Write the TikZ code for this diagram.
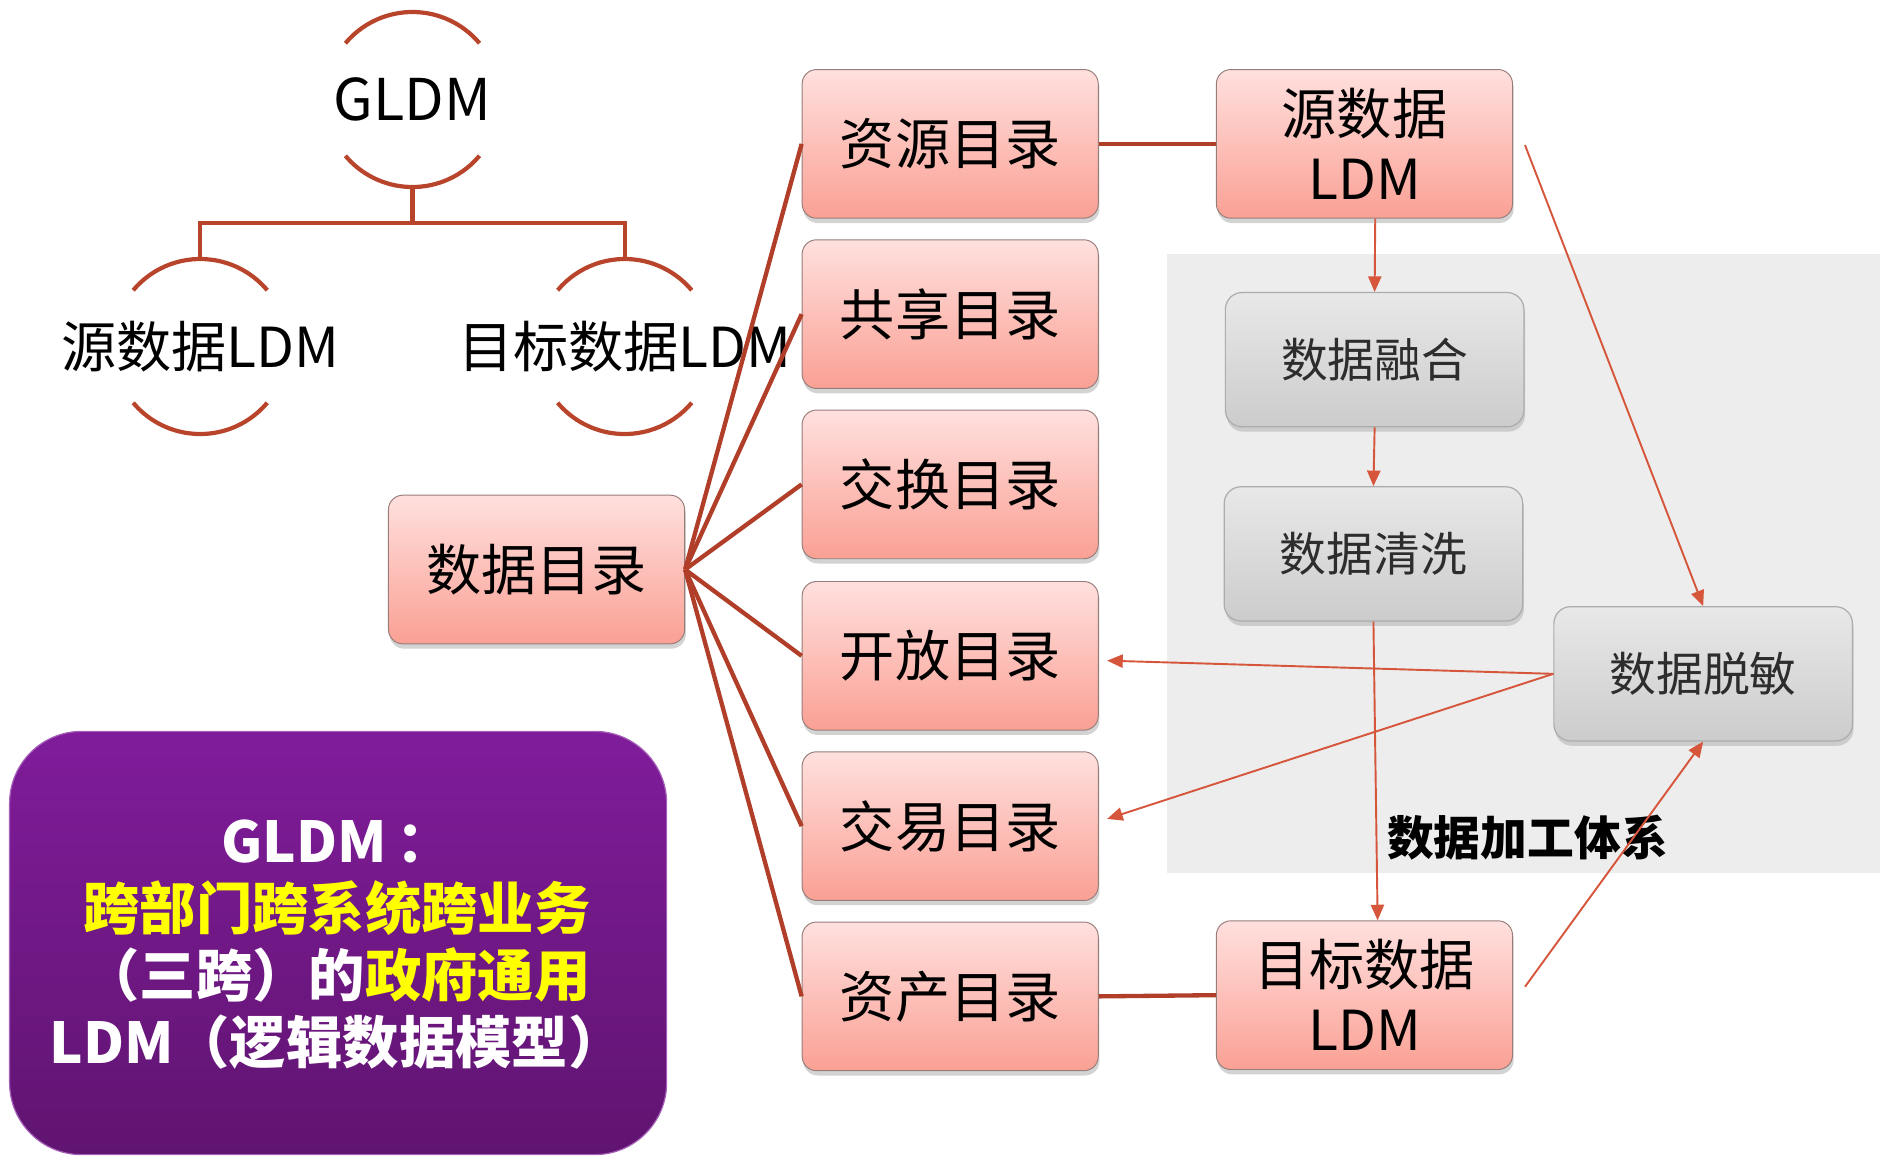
\documentclass[tikz,border=0pt]{standalone}
\usepackage{fontspec}
\setmainfont{Noto Sans CJK SC}
\usetikzlibrary{arrows.meta,shadows}
\definecolor{treecol}{RGB}{185,68,44}
\definecolor{fancol}{RGB}{176,62,40}
\definecolor{arrcol}{RGB}{214,86,60}
\definecolor{pinktop}{RGB}{255,224,222}
\definecolor{pinkbot}{RGB}{250,160,148}
\definecolor{pinkline}{RGB}{150,125,122}
\definecolor{graytop}{RGB}{232,232,232}
\definecolor{graybot}{RGB}{204,204,204}
\definecolor{grayline}{RGB}{172,172,172}
\definecolor{bgcol}{RGB}{237,237,237}
\definecolor{purptop}{RGB}{128,28,155}
\definecolor{purpbot}{RGB}{96,20,112}
\definecolor{yel}{RGB}{255,255,0}
\definecolor{darktext}{RGB}{45,45,45}
\begin{document}
\begin{tikzpicture}[x=1pt,y=-1pt,
  treeline/.style={draw=treecol,line width=3.5pt},
  fanline/.style={draw=fancol,line width=3.6pt},
  arr/.style={draw=arrcol,line width=1.6pt,-{Triangle[length=13pt,width=11pt]}},
  circnode/.style={circle,minimum size=146pt,inner sep=0pt,font=\fontsize{46}{52}\selectfont},
  pinkbox/.style={rounded corners=12pt,draw=pinkline,line width=0.8pt,top color=pinktop,bottom color=pinkbot,
     minimum width=247pt,minimum height=124pt,align=center,font=\fontsize{46}{54}\selectfont,
     drop shadow={shadow xshift=1pt,shadow yshift=-4pt,opacity=0.35}},
  graybox/.style={rounded corners=14pt,draw=grayline,line width=1pt,top color=graytop,bottom color=graybot,
     minimum width=249pt,minimum height=112pt,text=darktext,font=\fontsize{39}{45}\selectfont,
     drop shadow={shadow xshift=1pt,shadow yshift=-4pt,opacity=0.3}}]
\useasboundingbox (0,0) rectangle (1568,964);
% processing region
\fill[bgcol] (973,212) rectangle (1568,728);
% tree
\node[circnode,font=\fontsize{48}{54}\selectfont] (gldm) at (344,83) {GLDM};
\node[circnode] (src) at (167,289) {源数据LDM};
\node[circnode] (tgt) at (521,289) {目标数据LDM};
\foreach \n in {gldm,src,tgt}{
  \draw[treeline] ([shift={(220:73)}]\n.center) arc (220:320:73);
  \draw[treeline] ([shift={(40:73)}]\n.center) arc (40:140:73);
}
\coordinate (gbot) at ([shift={(90:73)}]gldm.center);
\coordinate (stop) at ([shift={(270:73)}]src.center);
\coordinate (ttop) at ([shift={(270:73)}]tgt.center);
\draw[treeline] (gbot) -- ++(0,30) -| (stop);
\draw[treeline] (gbot) -- ++(0,30) -| (ttop);
% catalog boxes
\node[pinkbox] (dir) at (447.5,475) {数据目录};
\node[pinkbox] (res) at (792.5,120) {资源目录};
\node[pinkbox] (share) at (792.5,262) {共享目录};
\node[pinkbox] (exch) at (792.5,404) {交换目录};
\node[pinkbox] (open) at (792.5,547) {开放目录};
\node[pinkbox] (trade) at (792.5,689) {交易目录};
\node[pinkbox] (asset) at (792.5,831) {资产目录};
\node[pinkbox] (srcldm) at (1138,120) {源数据\\LDM};
\node[pinkbox] (tgtldm) at (1138,830) {目标数据\\LDM};
\foreach \b in {res,share,exch,open,trade,asset}{
  \draw[fanline] (dir.east) -- (\b.west);
}
\draw[fanline] (res.east) -- (srcldm.west);
\draw[fanline] (asset.east) -- (tgtldm.west);
% processing boxes
\node[graybox] (fuse) at (1146.5,300) {数据融合};
\node[graybox] (clean) at (1145.5,462) {数据清洗};
\node[graybox] (mask) at (1420.5,562) {数据脱敏};
\node[font=\bfseries\fontsize{39}{45}\selectfont] (proc) at (1274,699) {数据加工体系};
% arrows
\draw[arr] ([xshift=9pt]srcldm.south) -- (fuse.north);
\draw[arr] (fuse.south) -- (clean.north);
\draw[arr] (clean.south) -- ([xshift=11pt]tgtldm.north);
\draw[arr] ([shift={(10,1)}]srcldm.east) -- (mask.north);
\draw[arr] (mask.west) -- ([shift={(7,4)}]open.east);
\draw[arr] (mask.west) -- ([shift={(7,-6)}]trade.east);
\draw[arr] ([shift={(10,-7)}]tgtldm.east) -- (mask.south);
% purple summary box
\node[rounded corners=60pt,top color=purptop,bottom color=purpbot,draw=purptop!70!white,line width=1pt,
      minimum width=548pt,minimum height=353pt] (summary) at (282,786.5) {};
\node[font=\bfseries\fontsize{47}{56}\selectfont,text=white,align=center] (sumtext) at (281,788)
  {GLDM\,：\\\textcolor{yel}{跨部门跨系统跨业务}\\（三跨）的\textcolor{yel}{政府通用}\\LDM（逻辑数据模型）};
\end{tikzpicture}
\end{document}
